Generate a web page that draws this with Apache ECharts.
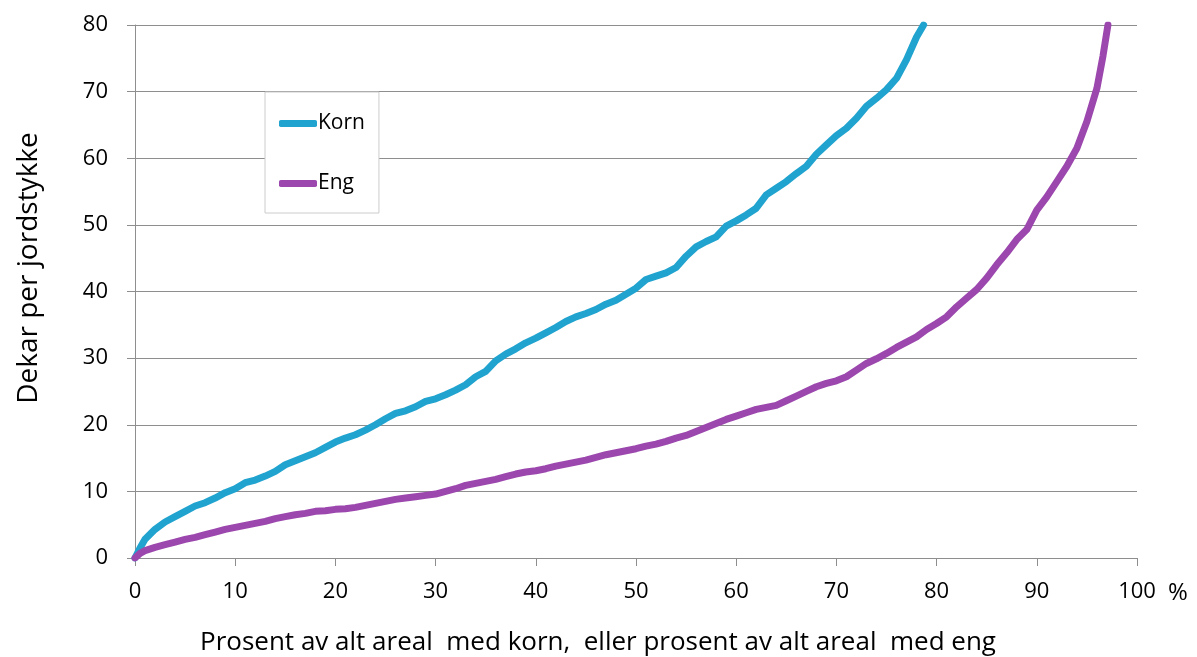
<!DOCTYPE html>
<html>
<head>
<meta charset="utf-8">
<script src="https://cdn.jsdelivr.net/npm/echarts@6/dist/echarts.min.js"></script>
<style>html,body{margin:0;padding:0;background:#fff}#c{width:1197px;height:657px}</style>
</head>
<body>
<div id="c"></div>
<script>
const seriesNames = ['Korn', 'Eng'];
const kornX = [0,0.5,1,2,3,4,5,6,7,8,9,10,11,12,13,14,15,16,17,18,19,20,21,22,23,24,25,26,27,28,29,30,31,32,33,34,35,36,37,38,39,40,41,42,43,44,45,46,47,48,49,50,51,52,53,54,55,56,57,58,59,60,61,62,63,64,65,66,67,68,69,70,71,72,73,74,75,76,77,78,78.7];
const kornY = [0,1.5,2.8,4.3,5.4,6.2,7.0,7.8,8.3,9.0,9.8,10.4,11.3,11.7,12.3,13.0,14.0,14.6,15.2,15.8,16.6,17.4,18.0,18.5,19.2,20.0,20.9,21.7,22.1,22.7,23.5,23.9,24.5,25.2,26.0,27.2,28.0,29.6,30.6,31.4,32.3,33.0,33.8,34.6,35.5,36.2,36.7,37.3,38.1,38.7,39.6,40.5,41.8,42.3,42.8,43.6,45.3,46.7,47.5,48.2,49.8,50.6,51.5,52.5,54.5,55.5,56.5,57.7,58.8,60.6,62.0,63.4,64.5,66.0,67.8,69.0,70.3,72.0,74.8,78.2,80];
const engX = [0,0.5,1,2,3,4,5,6,7,8,9,10,11,12,13,14,15,16,17,18,19,20,21,22,23,24,25,26,27,28,29,30,31,32,33,34,35,36,37,38,39,40,41,42,43,44,45,46,47,48,49,50,51,52,53,54,55,56,57,58,59,60,61,62,63,64,65,66,67,68,69,70,71,72,73,74,75,76,77,78,79,80,81,82,83,84,85,86,87,88,89,90,91,92,93,94,95,96,96.6,97.1];
const engY = [0,0.7,1.1,1.6,2.0,2.4,2.8,3.1,3.5,3.9,4.3,4.6,4.9,5.2,5.5,5.9,6.2,6.5,6.7,7.0,7.1,7.3,7.4,7.6,7.9,8.2,8.5,8.8,9.0,9.2,9.4,9.6,10.0,10.4,10.9,11.2,11.5,11.8,12.2,12.6,12.9,13.1,13.4,13.8,14.1,14.4,14.7,15.1,15.5,15.8,16.1,16.4,16.8,17.1,17.5,18.0,18.4,19.0,19.6,20.2,20.8,21.3,21.8,22.3,22.6,22.9,23.6,24.3,25.0,25.7,26.2,26.6,27.2,28.2,29.2,29.9,30.7,31.6,32.4,33.2,34.3,35.2,36.2,37.7,39.0,40.3,42.0,44.0,45.8,47.8,49.3,52.2,54.2,56.5,58.8,61.5,65.5,70.5,75.3,80];
const xTicks = [0,10,20,30,40,50,60,70,80,90,100];
const yTicks = [0,10,20,30,40,50,60,70,80];
const xTitle = 'Prosent av alt areal  med korn,  eller prosent av alt areal  med eng';
const yTitle = 'Dekar per jordstykke';
const unitLabel = '%';

const zip = (a, b) => a.map((v, i) => [v, b[i]]);
const font = '"Open Sans", "DejaVu Sans", sans-serif';
const gridColor = '#8e8e8e';

const chart = echarts.init(document.getElementById('c'));
chart.setOption({
  animation: false,
  backgroundColor: '#fff',
  grid: { left: 135, right: 60, top: 25, bottom: 99, containLabel: false },
  xAxis: {
    type: 'value', min: xTicks[0], max: xTicks[xTicks.length - 1], interval: 10,
    axisLine: { show: true, lineStyle: { color: gridColor, width: 1 } },
    axisTick: { show: true, length: 8, lineStyle: { color: gridColor } },
    splitLine: { show: false },
    axisLabel: { color: '#000', fontSize: 22, fontFamily: font, margin: 23 }
  },
  yAxis: {
    type: 'value', min: yTicks[0], max: yTicks[yTicks.length - 1], interval: 10,
    axisLine: { show: true, lineStyle: { color: gridColor, width: 1 } },
    axisTick: { show: true, length: 8, lineStyle: { color: gridColor } },
    splitLine: { show: true, lineStyle: { color: gridColor, width: 1 } },
    axisLabel: { color: '#000', fontSize: 22, fontFamily: font, margin: 27 }
  },
  legend: {
    left: 265, top: 92, orient: 'vertical',
    backgroundColor: '#fff', borderColor: '#cccccc', borderWidth: 1,
    padding: [21, 14, 19, 14], itemGap: 39,
    itemWidth: 38, itemHeight: 7, icon: 'roundRect',
    textStyle: { color: '#000', fontSize: 21, fontFamily: font, lineHeight: 21, padding: [0, 0, 0, -4] },
    data: seriesNames
  },
  graphic: [
    { type: 'text', x: 1178, y: 593, style: { text: unitLabel, fontSize: 24, fontFamily: font, fill: '#000', align: 'center', verticalAlign: 'middle' } },
    { type: 'text', x: 598, y: 643, style: { text: xTitle, fontSize: 26, fontFamily: font, fill: '#000', align: 'center', verticalAlign: 'middle' } },
    { type: 'text', x: 29, y: 268, rotation: Math.PI / 2,
      style: { text: yTitle, fontSize: 28, fontFamily: font, fill: '#000', align: 'center', verticalAlign: 'middle' } }
  ],
  series: [
    { name: seriesNames[0], type: 'line', data: zip(kornX, kornY), showSymbol: false, symbol: 'none',
      lineStyle: { color: '#21a3cf', width: 7, cap: 'round', join: 'round' }, itemStyle: { color: '#21a3cf' } },
    { name: seriesNames[1], type: 'line', data: zip(engX, engY), showSymbol: false, symbol: 'none',
      lineStyle: { color: '#9b47ad', width: 7, cap: 'round', join: 'round' }, itemStyle: { color: '#9b47ad' } }
  ]
});
</script>
</body>
</html>
